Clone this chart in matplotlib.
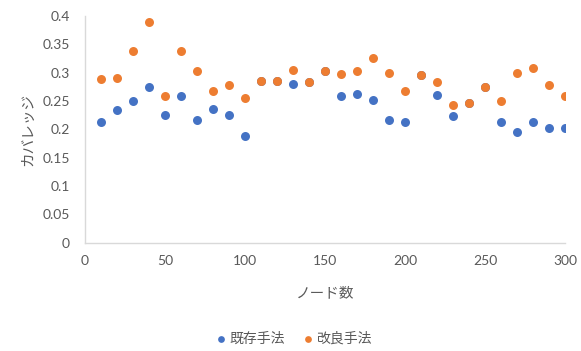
import matplotlib
matplotlib.use("Agg")
import matplotlib.pyplot as plt

# Node counts and coverage per method
nodes = [10, 20, 30, 40, 50, 60, 70, 80, 90, 100,
         110, 120, 130, 140, 150, 160, 170, 180, 190, 200,
         210, 220, 230, 240, 250, 260, 270, 280, 290, 300]
existing = [0.212, 0.234, 0.250, 0.275, 0.225, 0.259, 0.216, 0.236, 0.225, 0.188,
            0.286, 0.286, 0.280, 0.284, 0.302, 0.259, 0.263, 0.252, 0.216, 0.212,
            0.295, 0.261, 0.223, 0.247, 0.275, 0.212, 0.195, 0.212, 0.202, 0.202]
improved = [0.288, 0.291, 0.338, 0.390, 0.259, 0.338, 0.302, 0.268, 0.279, 0.256,
            0.286, 0.286, 0.304, 0.284, 0.302, 0.297, 0.303, 0.325, 0.300, 0.268,
            0.295, 0.284, 0.243, 0.247, 0.275, 0.250, 0.300, 0.309, 0.279, 0.259]

series_names = ["既存手法", "改良手法"]
x_ticks = [0, 50, 100, 150, 200, 250, 300]
y_ticks = [0, 0.05, 0.1, 0.15, 0.2, 0.25, 0.3, 0.35, 0.4]
y_tick_labels = ["0", "0.05", "0.1", "0.15", "0.2", "0.25", "0.3", "0.35", "0.4"]

text_color = "#595959"
jp_font = ["Noto Sans CJK JP", "DejaVu Sans"]
num_font = ["Lato", "DejaVu Sans"]

fig = plt.figure(figsize=(5.81, 3.51), dpi=100)
ax = fig.add_axes([85 / 581, 108.5 / 351, 480 / 581, 226.5 / 351])

ax.scatter(nodes, existing, s=42, color="#4472C4", label=series_names[0],
           zorder=3, linewidths=0)
ax.scatter(nodes, improved, s=42, color="#ED7D31", label=series_names[1],
           zorder=4, linewidths=0)

ax.set_xlim(0, 300)
ax.set_ylim(0, 0.4)
ax.set_xticks(x_ticks)
ax.set_yticks(y_ticks)
ax.set_yticklabels(y_tick_labels)

for side in ("top", "right"):
    ax.spines[side].set_visible(False)
for side in ("left", "bottom"):
    ax.spines[side].set_color("#D9D9D9")
    ax.spines[side].set_linewidth(1.0)

ax.tick_params(axis="both", length=0, colors=text_color, labelsize=10)
ax.tick_params(axis="y", pad=11)
ax.tick_params(axis="x", pad=9)
for lbl in ax.get_xticklabels() + ax.get_yticklabels():
    lbl.set_family(num_font)

ax.set_xlabel("ノード数", family=jp_font, fontsize=10.5, color=text_color, labelpad=14)
ax.set_ylabel("カバレッジ", family=jp_font, fontsize=10.5, color=text_color, labelpad=5)

leg = fig.legend(loc="center", bbox_to_anchor=(294 / 581, 12 / 351), ncol=2,
                 frameon=False, handlelength=0.7, handletextpad=0.25,
                 columnspacing=1.3, markerscale=0.75,
                 prop={"family": jp_font, "size": 10})
for t in leg.get_texts():
    t.set_color(text_color)

fig.savefig("out.png", dpi=100)
